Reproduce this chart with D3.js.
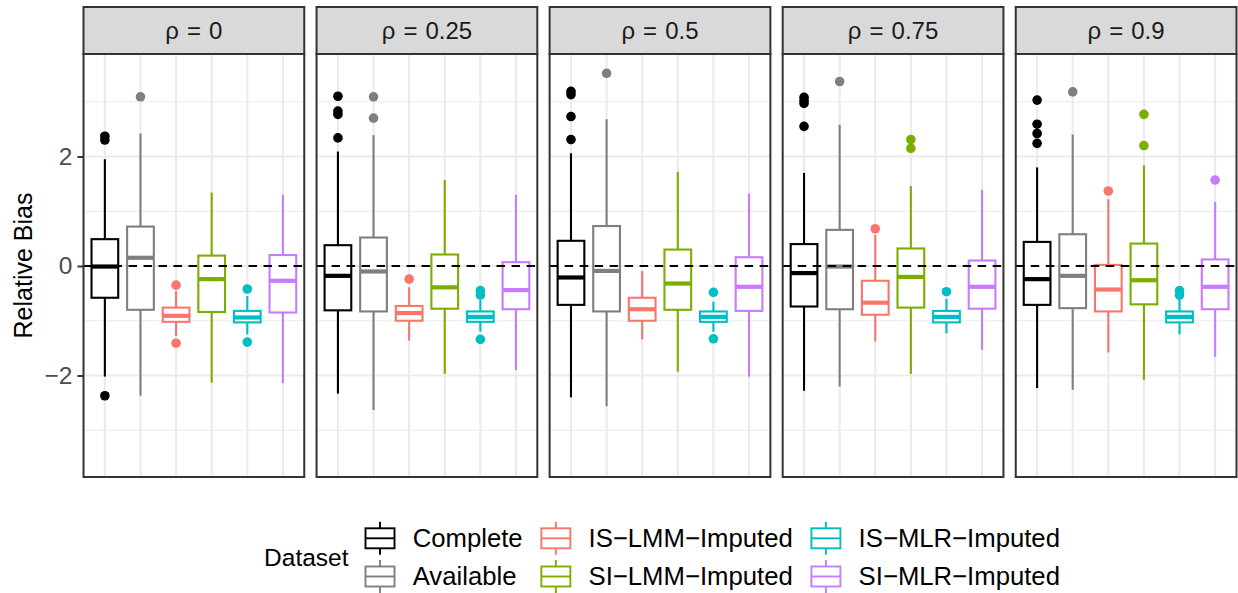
<!DOCTYPE html>
<html>
<head>
<meta charset="utf-8">
<script src="https://d3js.org/d3.v7.min.js"></script>
<style>
  body { margin: 0; background: #fff; }
  svg text { font-family: "Liberation Sans", Arial, Helvetica, sans-serif; }
</style>
</head>
<body>
<svg id="chart" width="1238" height="593"></svg>
<script>
// ---- data ----
var rhoLabels = ["0", "0.25", "0.5", "0.75", "0.9"];
var datasets = ["Complete", "Available", "IS\u2212LMM\u2212Imputed", "SI\u2212LMM\u2212Imputed", "IS\u2212MLR\u2212Imputed", "SI\u2212MLR\u2212Imputed"];
var colors = ["#000000", "#7F7F7F", "#F8766D", "#7CAE00", "#00BFC4", "#C77CFF"];
var yTicks = [-2, 0, 2];
var yMinor = [-3, -1, 1, 3];

// each row: [lower whisker, q1, median, q3, upper whisker], one row per dataset
var stats0 = [[-2.02, -0.58, -0.01, 0.49, 1.95], [-2.37, -0.80, 0.15, 0.72, 2.42], [-1.28, -1.02, -0.91, -0.76, -0.46],
              [-2.13, -0.84, -0.24, 0.19, 1.34], [-1.25, -1.03, -0.94, -0.82, -0.55], [-2.14, -0.85, -0.27, 0.20, 1.30]];
var stats25 = [[-2.33, -0.81, -0.18, 0.38, 2.09], [-2.63, -0.83, -0.10, 0.52, 2.39], [-1.36, -1.00, -0.86, -0.73, -0.39],
               [-1.97, -0.78, -0.39, 0.21, 1.57], [-1.20, -1.02, -0.93, -0.83, -0.62], [-1.90, -0.79, -0.44, 0.07, 1.30]];
var stats50 = [[-2.40, -0.71, -0.21, 0.46, 2.06], [-2.56, -0.83, -0.09, 0.73, 2.68], [-1.34, -1.00, -0.79, -0.58, -0.09],
               [-1.93, -0.80, -0.32, 0.30, 1.72], [-1.20, -1.02, -0.93, -0.83, -0.65], [-2.02, -0.82, -0.38, 0.16, 1.32]];
var stats75 = [[-2.28, -0.74, -0.13, 0.40, 1.70], [-2.20, -0.79, -0.01, 0.66, 2.58], [-1.38, -0.89, -0.67, -0.27, 0.57],
               [-1.97, -0.76, -0.20, 0.32, 1.46], [-1.23, -1.03, -0.93, -0.82, -0.60], [-1.53, -0.78, -0.38, 0.10, 1.39]];
var stats90 = [[-2.23, -0.71, -0.24, 0.44, 1.80], [-2.26, -0.77, -0.18, 0.58, 2.40], [-1.58, -0.83, -0.43, 0.02, 1.22],
               [-2.08, -0.70, -0.26, 0.41, 1.84], [-1.25, -1.03, -0.93, -0.83, -0.60], [-1.66, -0.79, -0.38, 0.12, 1.17]];

// outlying points, one list per dataset
var out0 = [[2.37, 2.30, -2.37], [3.09], [-0.35, -1.41], [], [-0.42, -1.39], []];
var out25 = [[3.10, 2.83, 2.77, 2.34], [3.09, 2.70], [-0.24], [], [-0.45, -0.53, -1.34], []];
var out50 = [[3.19, 3.13, 2.73, 2.31], [3.52], [], [], [-0.48, -1.33], []];
var out75 = [[3.08, 3.02, 2.97, 2.55], [3.37], [0.68], [2.31, 2.15], [-0.47], []];
var out90 = [[3.03, 2.59, 2.42, 2.24], [3.18], [1.37], [2.77, 2.20], [-0.45, -0.53], [1.57]];

var allStats = [stats0, stats25, stats50, stats75, stats90];
var allOut = [out0, out25, out50, out75, out90];

// ---- layout ----
var svg = d3.select("#chart");
var left = 83.5, right = 1236.5, gap = 12.3;
var stripTop = 7, stripH = 47;
var pTop = stripTop + stripH, pBottom = 477;
var pw = (right - left - gap * (rhoLabels.length - 1)) / rhoLabels.length;

var y = d3.scaleLinear().domain([-3.854, 3.872]).range([pBottom, pTop]);
var x = d3.scalePoint().domain(datasets).range([0, pw]).padding(0.6);
var bw = x.step() * 0.75;
var grid = "#EBEBEB", frame = "#333333";

rhoLabels.forEach(function(lab, p) {
  var g = svg.append("g").attr("transform", "translate(" + (left + p * (pw + gap)) + ",0)");

  // grid
  g.selectAll(".minor").data(yMinor).enter().append("line")
    .attr("x1", 0).attr("x2", pw).attr("y1", d => y(d)).attr("y2", d => y(d))
    .attr("stroke", grid).attr("stroke-width", 1.1);
  g.selectAll(".major").data(yTicks).enter().append("line")
    .attr("x1", 0).attr("x2", pw).attr("y1", d => y(d)).attr("y2", d => y(d))
    .attr("stroke", grid).attr("stroke-width", 2.1);
  g.selectAll(".vgrid").data(datasets).enter().append("line")
    .attr("x1", d => x(d)).attr("x2", d => x(d)).attr("y1", pTop).attr("y2", pBottom)
    .attr("stroke", grid).attr("stroke-width", 2.1);

  // boxplots
  var st = allStats[p], ou = allOut[p];
  datasets.forEach(function(ds, i) {
    var s = st[i], cx = x(ds), col = colors[i];
    var bg = g.append("g");
    bg.append("line").attr("x1", cx).attr("x2", cx).attr("y1", y(s[3])).attr("y2", y(s[4]))
      .attr("stroke", col).attr("stroke-width", 2.1);
    bg.append("line").attr("x1", cx).attr("x2", cx).attr("y1", y(s[1])).attr("y2", y(s[0]))
      .attr("stroke", col).attr("stroke-width", 2.1);
    bg.append("rect").attr("x", cx - bw / 2).attr("width", bw)
      .attr("y", y(s[3])).attr("height", y(s[1]) - y(s[3]))
      .attr("fill", "#fff").attr("stroke", col).attr("stroke-width", 2.1);
    bg.append("line").attr("x1", cx - bw / 2).attr("x2", cx + bw / 2).attr("y1", y(s[2])).attr("y2", y(s[2]))
      .attr("stroke", col).attr("stroke-width", 4.2);
    bg.selectAll("circle").data(ou[i]).enter().append("circle")
      .attr("cx", cx).attr("cy", d => y(d)).attr("r", 4.8).attr("fill", col);
  });

  // reference line at zero
  g.append("line").attr("x1", 0).attr("x2", pw).attr("y1", y(0)).attr("y2", y(0))
    .attr("stroke", "#000").attr("stroke-width", 2.1).attr("stroke-dasharray", "8.5,6.5");

  // panel border
  g.append("rect").attr("x", 0).attr("y", pTop).attr("width", pw).attr("height", pBottom - pTop)
    .attr("fill", "none").attr("stroke", frame).attr("stroke-width", 2);

  // strip
  g.append("rect").attr("x", 0).attr("y", stripTop).attr("width", pw).attr("height", stripH)
    .attr("fill", "#D9D9D9").attr("stroke", frame).attr("stroke-width", 2);
  g.append("text").attr("x", pw / 2).attr("y", stripTop + stripH / 2).attr("dy", "0.36em")
    .attr("text-anchor", "middle").attr("font-size", 24).attr("fill", "#1A1A1A")
    .text("\u03c1\u2004=\u2004" + lab);

  // y axis on first panel
  if (p === 0) {
    var ax = g.append("g").call(d3.axisLeft(y).tickValues(yTicks).tickSize(6).tickPadding(5)
      .tickFormat(d3.format("d")));
    ax.select(".domain").remove();
    ax.selectAll("line").attr("stroke", frame).attr("stroke-width", 2);
    ax.selectAll("text").attr("font-size", 24.5).attr("fill", "#4D4D4D")
      .attr("font-family", "Liberation Sans, Arial, sans-serif");
  }
});

// y axis title
svg.append("text").attr("transform", "translate(32," + ((pTop + pBottom) / 2) + ") rotate(-90)")
  .attr("text-anchor", "middle").attr("font-size", 25).attr("fill", "#000").text("Relative Bias");

// ---- legend ----
var leg = svg.append("g");
var rowY = [538.3, 576.5];
var title = leg.append("text").attr("x", 0).attr("y", (rowY[0] + rowY[1]) / 2).attr("dy", "0.35em")
  .attr("font-size", 24.5).attr("fill", "#000").text("Dataset");
var colX = title.node().getComputedTextLength() + 31.5;
var nCols = Math.ceil(datasets.length / 2);
var endX = 0;
for (var c = 0; c < nCols; c++) {
  var maxW = 0;
  for (var r = 0; r < 2; r++) {
    var i = c * 2 + r;
    if (i >= datasets.length) continue;
    var k = leg.append("g").attr("transform", "translate(" + colX + "," + rowY[r] + ")");
    k.append("line").attr("x1", 0).attr("x2", 0).attr("y1", -16.5).attr("y2", 16.5)
      .attr("stroke", colors[i]).attr("stroke-width", 1.9);
    k.append("rect").attr("x", -14.5).attr("y", -10).attr("width", 29).attr("height", 20)
      .attr("fill", "#fff").attr("stroke", colors[i]).attr("stroke-width", 1.9);
    k.append("line").attr("x1", -14.5).attr("x2", 14.5).attr("y1", 0).attr("y2", 0)
      .attr("stroke", colors[i]).attr("stroke-width", 1.9);
    var t = leg.append("text").attr("x", colX + 32.7).attr("y", rowY[r]).attr("dy", "0.35em")
      .attr("font-size", 25.7).attr("fill", "#000").text(datasets[i]);
    maxW = Math.max(maxW, t.node().getComputedTextLength());
  }
  endX = colX + 32.7 + maxW;
  colX = endX + 33.2;
}
leg.attr("transform", "translate(" + (662 - endX / 2) + ",0)");
</script>
</body>
</html>
